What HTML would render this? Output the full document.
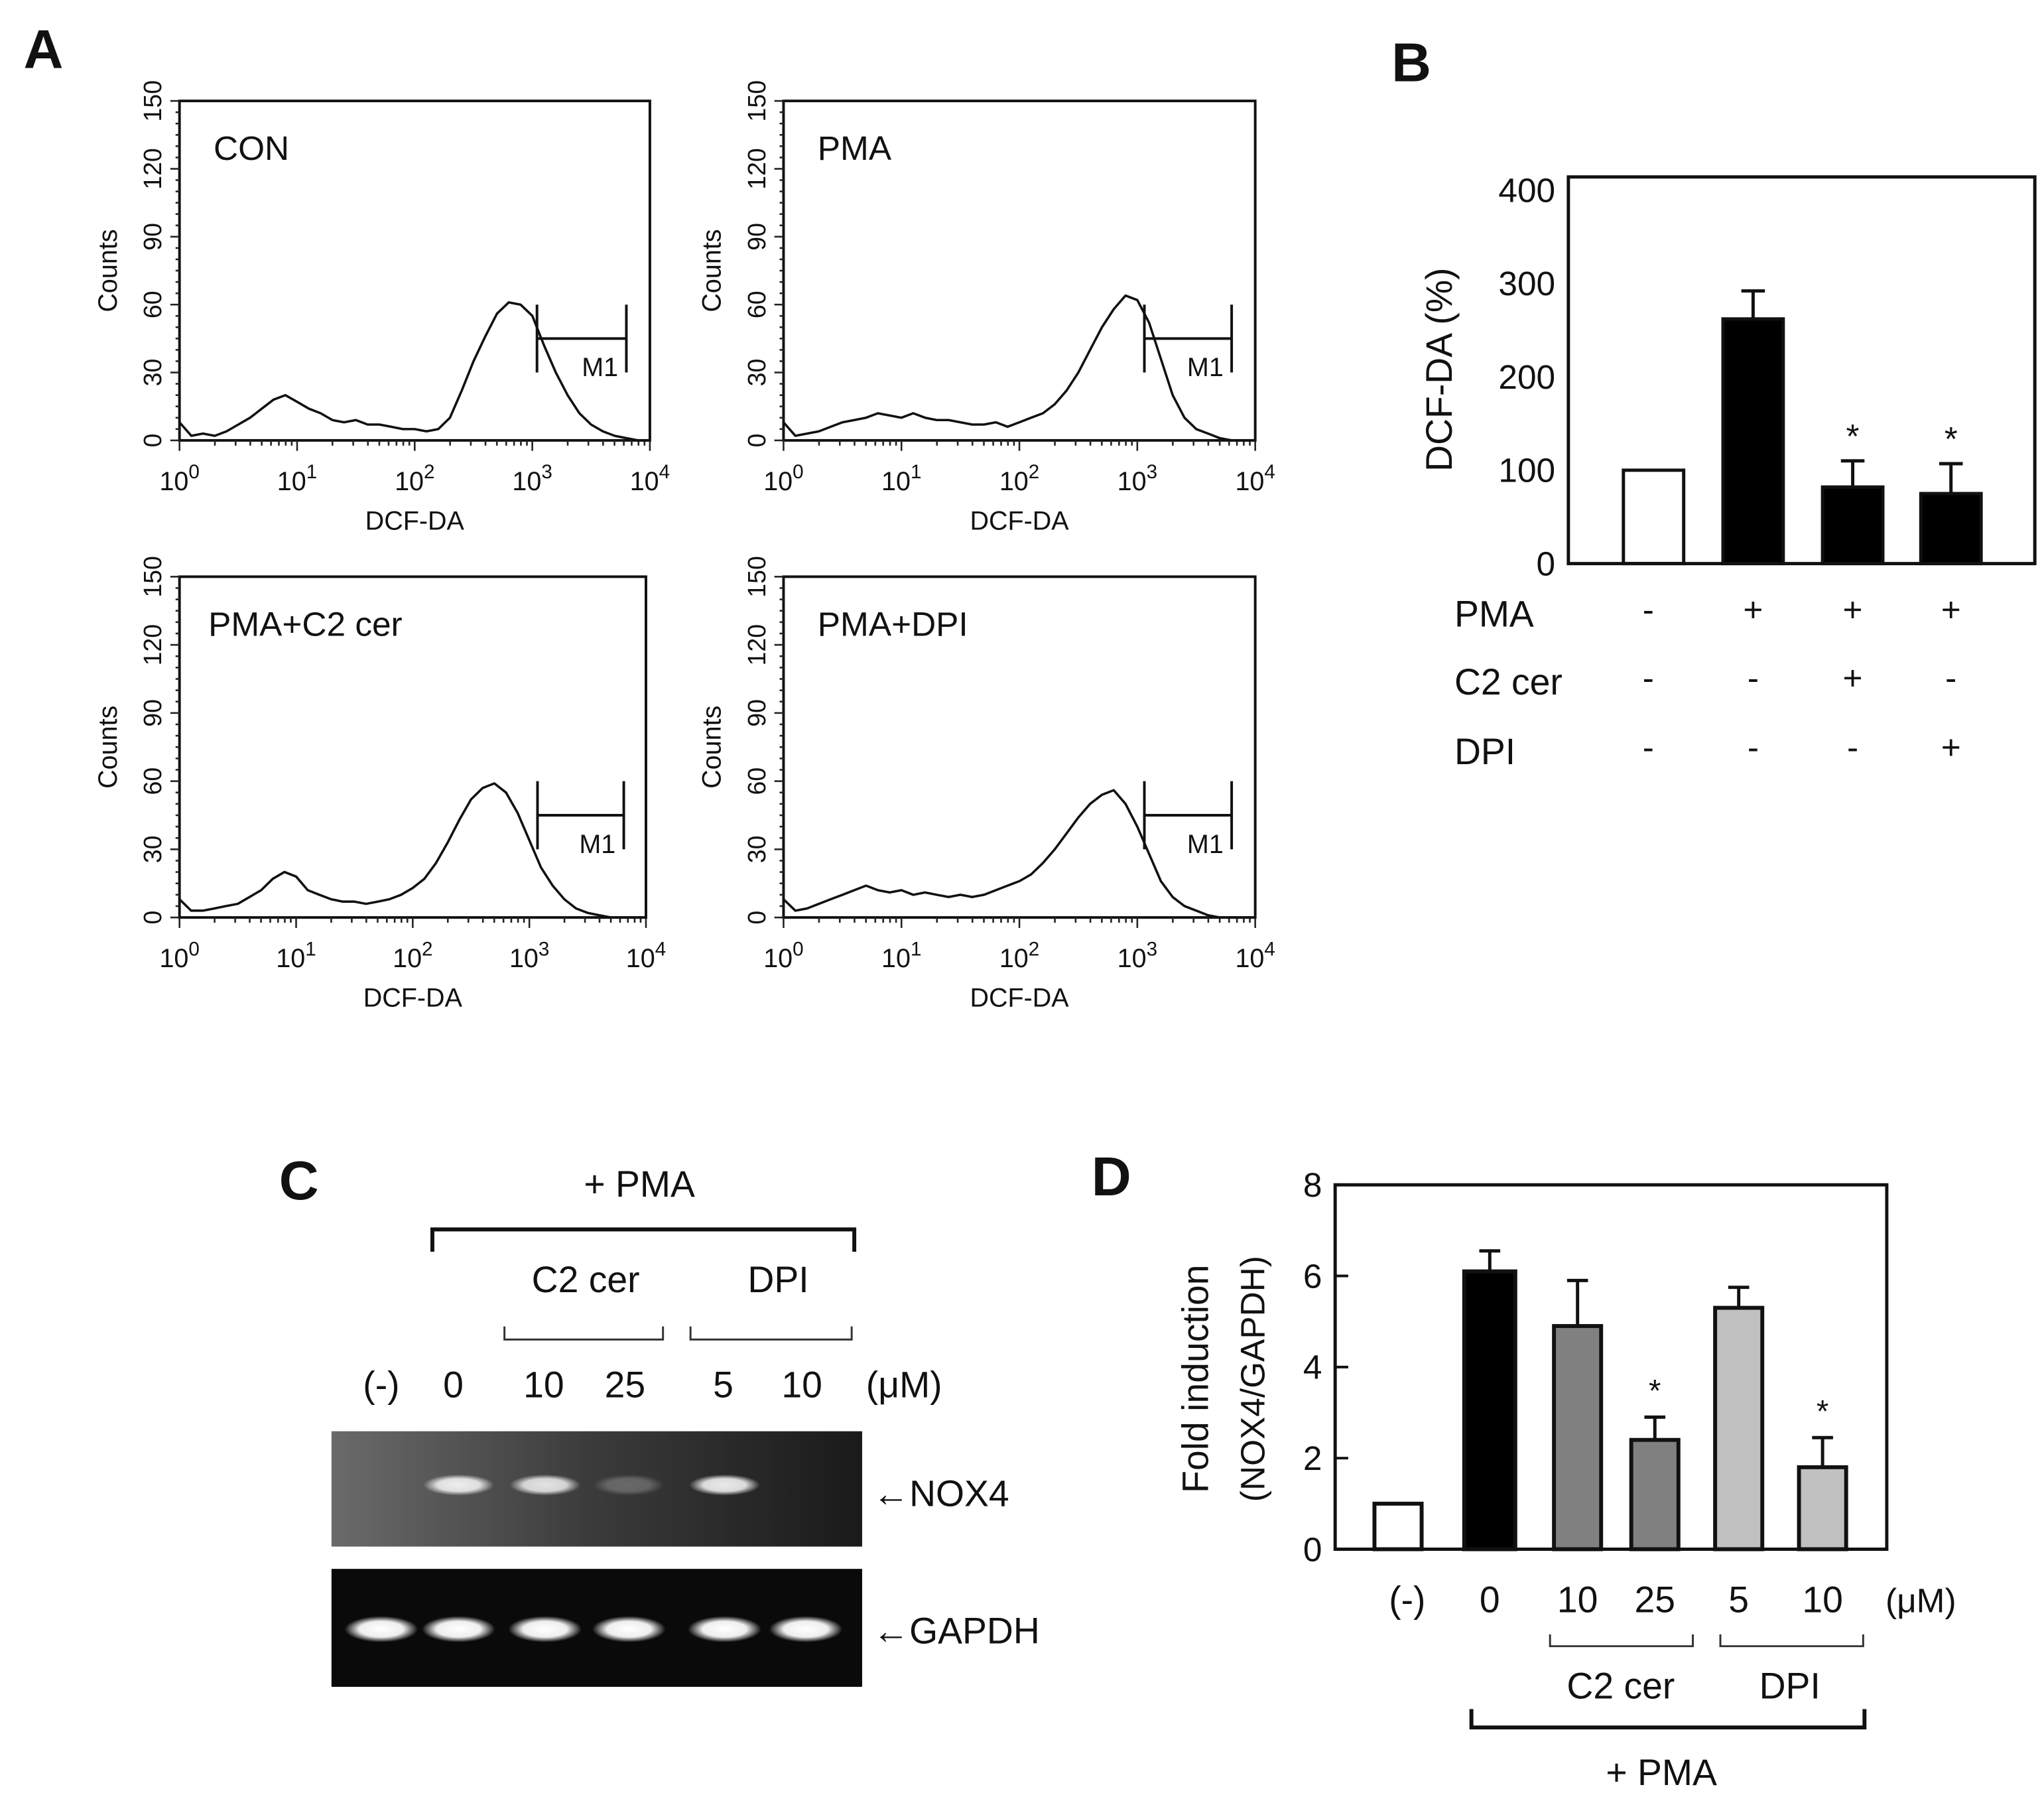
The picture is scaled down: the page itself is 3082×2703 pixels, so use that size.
<!DOCTYPE html>
<html><head><meta charset="utf-8"><style>
html,body{margin:0;padding:0;background:#fff}
svg{display:block}
text{font-family:"Liberation Sans",Arial,sans-serif;fill:#111}
</style></head><body>
<svg id="fig" width="3082" height="2703" viewBox="0 0 1560 1368" preserveAspectRatio="none" xmlns="http://www.w3.org/2000/svg">
<defs>
<radialGradient id="bandW" cx="50%" cy="50%" r="50%"><stop offset="0%" stop-color="#fff"/><stop offset="60%" stop-color="#eee"/><stop offset="100%" stop-color="#eee" stop-opacity="0"/></radialGradient>
<linearGradient id="gelN" x1="0" y1="0" x2="1" y2="0"><stop offset="0" stop-color="#6a6a6a"/><stop offset="0.5" stop-color="#3a3a3a"/><stop offset="1" stop-color="#1a1a1a"/></linearGradient>
</defs>
</svg>
<script>
// ---------- data ----------
const histTitles = ["CON","PMA","PMA+C2 cer","PMA+DPI"];
const histLogStep = 0.1;
const histCON = [8,2,3,2,4,7,10,14,18,20,17,14,12,9,8,9,7,7,6,5,5,4,5,10,22,35,46,56,61,60,55,42,30,20,12,7,4,2,1,0,0];
const histPMA = [8,2,3,4,6,8,9,10,12,11,10,12,10,9,9,8,7,7,8,6,8,10,12,16,22,30,40,50,58,64,62,52,36,20,10,5,3,1,0,0,0];
const histC2 = [8,3,3,4,5,6,9,12,17,20,18,12,10,8,7,7,6,7,8,10,13,17,24,33,43,52,57,59,55,46,34,22,14,8,4,2,1,0,0,0,0];
const histDPI = [8,3,4,6,8,10,12,14,12,11,12,10,11,10,9,10,9,10,12,14,16,19,24,30,37,44,50,54,56,50,40,28,16,9,5,3,1,0,0,0,0];
const markerStart = [3.04,3.06,3.07,3.06];
const markerEnd = [3.8,3.8,3.81,3.8];
const countTicks = [0,30,60,90,120,150];
const decadeTicks = [0,1,2,3,4];

const bCategories = ["CON","PMA","PMA+C2cer","PMA+DPI"];
const bValues = [100,262,82,75];
const bErrors = [0,30,28,32];
const bTicks = [0,100,200,300,400];
const bPMA = ["-","+","+","+"];
const bC2 = ["-","-","+","-"];
const bDPI = ["-","-","-","+"];

const dLabels = ["(-)","0","10","25","5","10"];
const dValues = [1.0,6.1,4.9,2.4,5.3,1.8];
const dErrors = [0,0.45,1.0,0.5,0.45,0.65];
const dTicks = [0,2,4,6,8];
const nox4Intensity = [0,0.9,0.85,0.25,0.9,0];
const gapdhIntensity = [1,1,1,1,1,1];

// ---------- helpers ----------
const svg = document.getElementById('fig');
const NS = "http://www.w3.org/2000/svg";
function el(tag, attrs, parent){const e=document.createElementNS(NS,tag);for(const k in attrs)e.setAttribute(k,attrs[k]);(parent||svg).appendChild(e);return e;}
function txt(x,y,s,size,opts,parent){const o=Object.assign({x:x,y:y,'font-size':size},opts||{});const t=el('text',o,parent);t.textContent=s;return t;}

// panel letters
[["A",18,52],["B",1062,62],["C",213,915],["D",833,912]].forEach(p=>{
  const t=txt(p[1],p[2],p[0],42,{'font-weight':'bold'});
  
  
});

// ---------- Panel A histograms ----------
const frames = [[137,77,496,336],[598,77,958,336],[137,440,493,700],[598,440,958,700]];
const hists = [histCON,histPMA,histC2,histDPI];
frames.forEach((f,i)=>{
  const g=el('g',{});
  
  
  const [x0,y0,x1,y1]=f;
  const xs=v=>x0+(x1-x0)*v/4;
  const ys=c=>y1-(y1-y0)*c/150;
  el('rect',{x:x0,y:y0,width:x1-x0,height:y1-y0,fill:'none',stroke:'#111','stroke-width':2},g);
  // y ticks
  for(let c=0;c<=150;c+=5){const L=c%30===0?7:3;el('line',{x1:x0-L,x2:x0,y1:ys(c),y2:ys(c),stroke:'#222','stroke-width':1.3},g);}
  countTicks.forEach(c=>{
    const t=txt(x0-14,ys(c),String(c),19,{'text-anchor':'middle',transform:`rotate(-90 ${x0-14} ${ys(c)})`,fill:'#333'},g);
    
  });
  const yl=txt(x0-48,(y0+y1)/2,"Counts",20,{'text-anchor':'middle',transform:`rotate(-90 ${x0-48} ${(y0+y1)/2})`,fill:'#333'},g);
  
  // x ticks (log)
  for(let d=0;d<4;d++){for(let m=1;m<10;m++){const v=d+Math.log10(m);const L=m===1?8:4;el('line',{x1:xs(v),x2:xs(v),y1:y1,y2:y1+L,stroke:'#222','stroke-width':1.3},g);}}
  el('line',{x1:xs(4),x2:xs(4),y1:y1,y2:y1+8,stroke:'#222','stroke-width':1.3},g);
  decadeTicks.forEach(d=>{
    const t=el('text',{x:xs(d),y:y1+38,'font-size':20,'text-anchor':'middle',fill:'#333'},g);
    t.innerHTML=`10<tspan dy="-9" font-size="15">${d}</tspan>`;
    
  });
  const xl=txt((x0+x1)/2,y1+68,"DCF-DA",20,{'text-anchor':'middle',fill:'#333'},g);
  
  const tt=txt(x0+(i%2===0&&i>0?22:26),y0+45,histTitles[i],26,{fill:'#111'},g);
  
  // curve
  const pts=hists[i].map((c,k)=>`${xs(k*histLogStep).toFixed(1)},${ys(c).toFixed(1)}`).join(' ');
  const pl=el('polyline',{points:pts,fill:'none',stroke:'#111','stroke-width':1.8,'stroke-linejoin':'round'},g);
  
  // M1 marker
  const ma=xs(markerStart[i]),mb=xs(markerEnd[i]);
  const mg=el('g',{stroke:'#111','stroke-width':2},g);
  
  el('line',{x1:ma,x2:mb,y1:ys(45),y2:ys(45)},mg);
  el('line',{x1:ma,x2:ma,y1:ys(30),y2:ys(60)},mg);
  el('line',{x1:mb,x2:mb,y1:ys(30),y2:ys(60)},mg);
  txt(mb-34,ys(33)+8,"M1",20,{fill:'#333'},g);
});

// ---------- Panel B ----------
(function(){
  const g=el('g',{});
  const x0=1197,x1=1553,y0=135,y1=430;
  const ys=v=>y1-(v/400)*(y1-145);
  const cx=[1262,1338,1414,1489];const w=46;
  bCategories.forEach((c,i)=>{
    const top=ys(bValues[i]);
    if(bErrors[i]>0){el('line',{x1:cx[i],x2:cx[i],y1:top,y2:ys(bValues[i]+bErrors[i]),stroke:'#111','stroke-width':2.5},g);
      el('line',{x1:cx[i]-9,x2:cx[i]+9,y1:ys(bValues[i]+bErrors[i]),y2:ys(bValues[i]+bErrors[i]),stroke:'#111','stroke-width':2.5},g);}
    const r=el('rect',{x:cx[i]-w/2,y:top,width:w,height:y1-top,fill:i===0?'#fff':'#000',stroke:'#111','stroke-width':2.5},g);
    
    if(i>=2)txt(cx[i],ys(bValues[i]+bErrors[i])-10,"*",26,{'text-anchor':'middle'},g);
  });
  el('rect',{x:x0,y:y0,width:x1-x0,height:y1-y0,fill:'none',stroke:'#111','stroke-width':2.5},g);
  bTicks.forEach(v=>{const t=txt(x0-10,ys(v)+9,String(v),26,{'text-anchor':'end'},g);});
  const yl=txt(1108,282,"DCF-DA (%)",28,{'text-anchor':'middle',transform:'rotate(-90 1108 282)'},g);
  
  [["PMA",478,bPMA],["C2 cer",530,bC2],["DPI",583,bDPI]].forEach(r=>{
    const t=txt(1110,r[1],r[0],28,{},g);
    r[2].forEach((s,i)=>txt(cx[i]-(i===0?4:0),r[1]-4,s,26,{'text-anchor':'middle'},g));
  });
})();

// ---------- Panel C ----------
(function(){
  const g=el('g',{});
  txt(488,913,"+ PMA",28,{'text-anchor':'middle'},g);
  el('polyline',{points:"330,955 330,938 652,938 652,955",fill:'none',stroke:'#111','stroke-width':3},g);
  txt(447,986,"C2 cer",28,{'text-anchor':'middle'},g);
  txt(594,986,"DPI",28,{'text-anchor':'middle'},g);
  el('polyline',{points:"385,1012 385,1022 506,1022 506,1012",fill:'none',stroke:'#333','stroke-width':1.5},g);
  el('polyline',{points:"527,1012 527,1022 650,1022 650,1012",fill:'none',stroke:'#333','stroke-width':1.5},g);
  const lx=[291,346,415,477,552,612];
  dLabels.forEach((l,i)=>txt(lx[i],1066,l,28,{'text-anchor':'middle'},g));
  txt(690,1066,"(μM)",28,{'text-anchor':'middle'},g);
  const g1=el('rect',{x:253,y:1092,width:405,height:88,fill:'url(#gelN)'},g);
  
  const g2=el('rect',{x:253,y:1197,width:405,height:90,fill:'#0a0a0a'},g);
  
  const bx=[291,350,416,480,553,615];
  nox4Intensity.forEach((v,i)=>{if(v>0){const b=el('ellipse',{cx:bx[i],cy:1133,rx:27,ry:8,fill:'url(#bandW)',opacity:v},g);}});
  gapdhIntensity.forEach((v,i)=>{const b=el('ellipse',{cx:bx[i],cy:1243,rx:28,ry:10,fill:'url(#bandW)',opacity:v},g);});
  txt(666,1149,"←NOX4",28,{},g);
  txt(666,1254,"←GAPDH",28,{},g);
})();

// ---------- Panel D ----------
(function(){
  const g=el('g',{});
  const x0=1019,x1=1440,y0=904,y1=1182;
  const ys=v=>y1-(v/8)*(y1-904);
  const cx=[1067,1137,1204,1263,1327,1391];
  const fills=['#fff','#000','#808080','#808080','#c0c0c0','#c0c0c0'];
  dValues.forEach((v,i)=>{
    const w=i===1?39:36;const top=ys(v);
    if(dErrors[i]>0){const e=ys(v+dErrors[i]);el('line',{x1:cx[i],x2:cx[i],y1:top,y2:e,stroke:'#111','stroke-width':2.5},g);el('line',{x1:cx[i]-8,x2:cx[i]+8,y1:e,y2:e,stroke:'#111','stroke-width':2.5},g);}
    const r=el('rect',{x:cx[i]-w/2,y:top,width:w,height:y1-top,fill:fills[i],stroke:'#111','stroke-width':3},g);
    
    if(i===3||i===5)txt(cx[i],ys(v+dErrors[i])-12,"*",24,{'text-anchor':'middle'},g);
  });
  el('rect',{x:x0,y:y0,width:x1-x0,height:y1-y0,fill:'none',stroke:'#111','stroke-width':2.5},g);
  dTicks.forEach(v=>{el('line',{x1:x0,x2:x0+10,y1:ys(v),y2:ys(v),stroke:'#111','stroke-width':2},g);const t=txt(x0-10,ys(v)+9,String(v),26,{'text-anchor':'end'},g);});
  const a=txt(922,1052,"Fold induction",28,{'text-anchor':'middle',transform:'rotate(-90 922 1052)'},g);
  
  txt(965,1052,"(NOX4/GAPDH)",26,{'text-anchor':'middle',transform:'rotate(-90 965 1052)'},g);
  dLabels.forEach((l,i)=>txt(cx[i]+(i===0?7:0),1230,l,28,{'text-anchor':'middle'},g));
  txt(1466,1230,"(μM)",26,{'text-anchor':'middle'},g);
  el('polyline',{points:"1183,1247 1183,1256 1292,1256 1292,1247",fill:'none',stroke:'#333','stroke-width':1.5},g);
  el('polyline',{points:"1313,1247 1313,1256 1422,1256 1422,1247",fill:'none',stroke:'#333','stroke-width':1.5},g);
  txt(1237,1296,"C2 cer",28,{'text-anchor':'middle'},g);
  txt(1366,1296,"DPI",28,{'text-anchor':'middle'},g);
  el('polyline',{points:"1123,1304 1123,1318 1423,1318 1423,1304",fill:'none',stroke:'#111','stroke-width':3},g);
  txt(1268,1362,"+ PMA",28,{'text-anchor':'middle'},g);
})();
</script>
</body></html>
